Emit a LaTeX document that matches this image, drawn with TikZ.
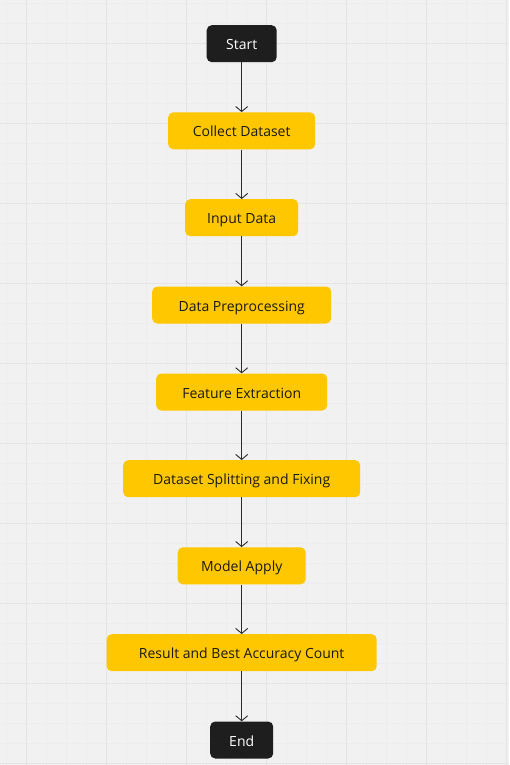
\documentclass[tikz,border=0pt]{standalone}
\usepackage{fontspec}
\setmainfont{Open Sans}
\usetikzlibrary{arrows.meta}
\definecolor{bg}{HTML}{F1F1F1}
\definecolor{gridminor}{HTML}{EDEDED}
\definecolor{gridmajor}{HTML}{E4E4E4}
\definecolor{boxyellow}{HTML}{FFC700}
\definecolor{boxblack}{HTML}{1E1E1E}
\definecolor{textdark}{HTML}{1A1A1A}
\definecolor{linedark}{HTML}{2B2B2B}
\tikzset{
  minorline/.style={draw=gridminor, line width=0.7pt},
  majorline/.style={draw=gridmajor, line width=1pt},
  basebox/.style={rounded corners=5pt, inner sep=0pt, minimum height=37pt, text height=12pt, text depth=0pt, font=\fontsize{14}{16}\selectfont},
  termbox/.style={basebox, fill=boxblack, text=white},
  stepbox/.style={basebox, fill=boxyellow, text=textdark},
  flow/.style={draw=linedark, line width=0.9pt, -{Straight Barb[length=5pt,width=12pt,line width=0.9pt]}}
}
\begin{document}
\begin{tikzpicture}[x=1pt,y=-1pt]
\fill[bg] (0,0) rectangle (509,765);
\useasboundingbox (0,0) rectangle (509,765);
\foreach \i in {0,...,25} {
  \draw[minorline] ({6.7+20*\i},0) -- ({6.7+20*\i},765);
  \draw[minorline] (0,{3.3+20*\i}) -- (509,{3.3+20*\i});
}
\foreach \i in {26,...,38} {
  \draw[minorline] (0,{3.3+20*\i}) -- (509,{3.3+20*\i});
}
\foreach \i in {0,...,6} {
  \draw[majorline] ({26.7+80*\i},0) -- ({26.7+80*\i},765);
}
\foreach \i in {0,...,9} {
  \draw[majorline] (0,{43.3+80*\i}) -- (509,{43.3+80*\i});
}
\node[termbox, minimum width=70pt] (start) at (241.7,43.7) {Start};
\node[stepbox, minimum width=147pt] (collect) at (241.7,130.8) {Collect Dataset};
\node[stepbox, minimum width=113pt] (input) at (241.7,217.7) {Input Data};
\node[stepbox, minimum width=179pt] (prep) at (241.7,305) {Data Preprocessing};
\node[stepbox, minimum width=171pt] (feat) at (241.7,392) {Feature Extraction};
\node[stepbox, minimum width=237pt] (split) at (241.7,478.7) {Dataset Splitting and Fixing};
\node[stepbox, minimum width=128pt] (model) at (241.7,565.8) {Model Apply};
\node[stepbox, minimum width=270pt] (result) at (241.7,652.7) {Result and Best Accuracy Count};
\node[termbox, minimum width=63pt] (end) at (241.7,740) {End};
\draw[flow] (start) -- (collect);
\draw[flow] (collect) -- (input);
\draw[flow] (input) -- (prep);
\draw[flow] (prep) -- (feat);
\draw[flow] (feat) -- (split);
\draw[flow] (split) -- (model);
\draw[flow] (model) -- (result);
\draw[flow] (result) -- (end);
\end{tikzpicture}
\end{document}
